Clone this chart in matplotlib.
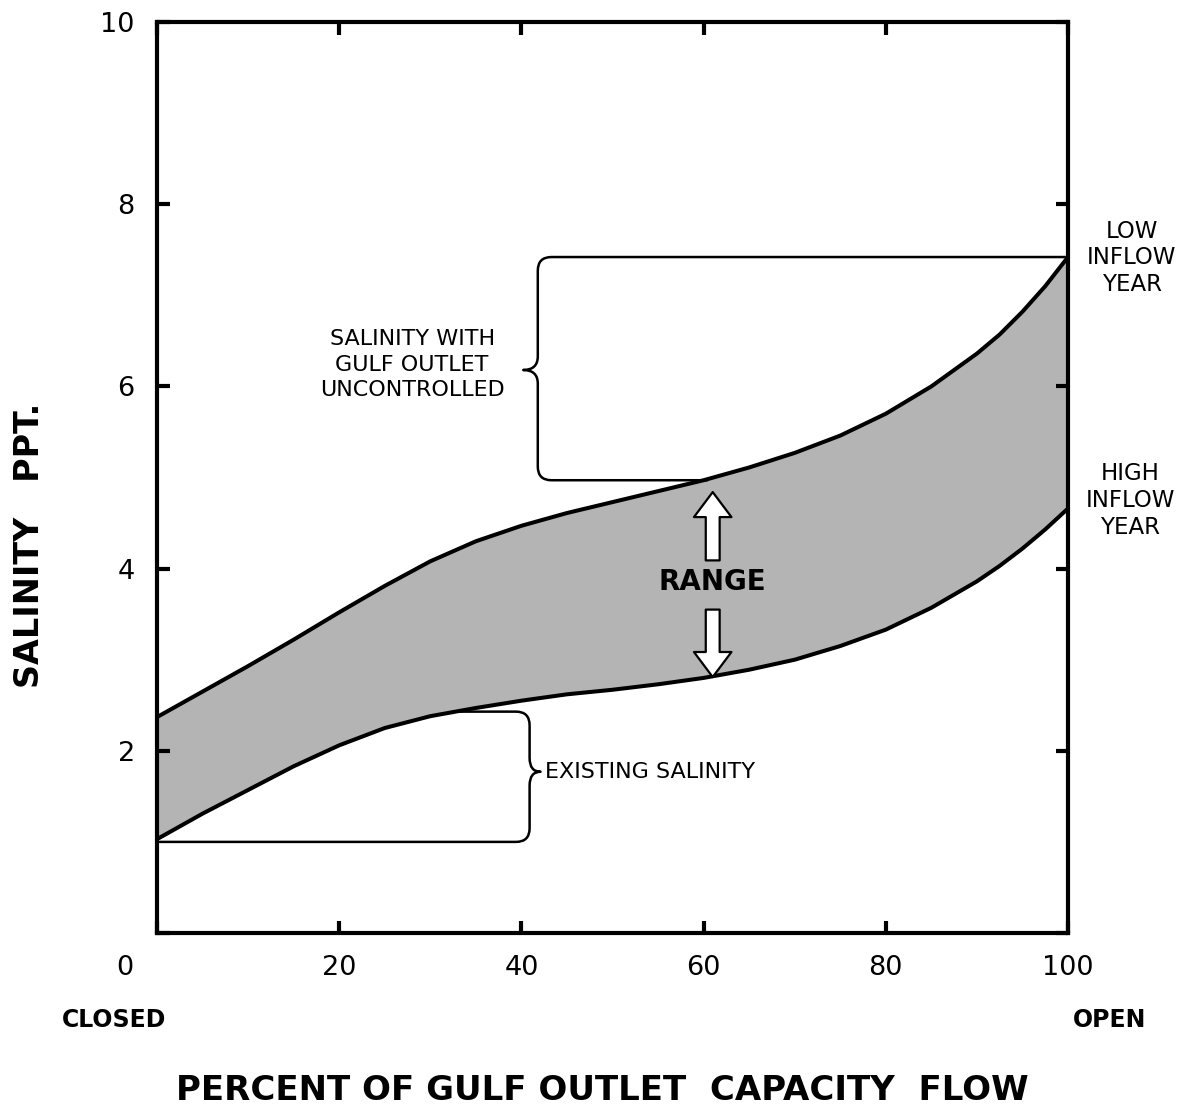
import numpy as np
import matplotlib
matplotlib.use("Agg")
import matplotlib.pyplot as plt
from matplotlib.path import Path
from matplotlib.patches import PathPatch
from matplotlib.transforms import ScaledTranslation

# Porcentaje del caudal de capacidad de la salida al golfo
pct_flow = [0, 5, 10, 15, 20, 25, 30, 35, 40, 45, 50,
            55, 60, 65, 70, 75, 80, 85, 90, 92.5, 95, 97.5, 100]
# Salinidad (ppt) para un año de bajo aporte (curva superior)
low_inflow = [2.37, 2.65, 2.93, 3.22, 3.52, 3.81, 4.08, 4.30, 4.47, 4.61, 4.73,
              4.85, 4.97, 5.11, 5.27, 5.46, 5.70, 6.00, 6.36, 6.57, 6.82, 7.10, 7.42]
# Salinidad (ppt) para un año de alto aporte (curva inferior)
high_inflow = [1.03, 1.31, 1.57, 1.83, 2.06, 2.25, 2.38, 2.47, 2.55, 2.62, 2.67,
               2.73, 2.80, 2.89, 3.00, 3.15, 3.33, 3.57, 3.86, 4.03, 4.22, 4.43, 4.66]

x_ticks = [0, 20, 40, 60, 80, 100]
x_labels = ["0", "20", "40", "60", "80", "100"]
y_ticks = [0, 2, 4, 6, 8, 10]
y_labels = ["", "2", "4", "6", "8", "10"]


# Dibuja una llave con esquinas redondeadas entre y_top e y_bot, con el pico en x_tip
def draw_brace(ax, xb, y_top, y_bot, y_mid, x_tip, x_top_end, x_bot_end, rx, ry, lw):
    d = 1 if x_top_end > xb else -1
    verts = [
        (x_top_end, y_top), (xb + d * rx, y_top),
        (xb, y_top), (xb, y_top - ry),
        (xb, y_mid + ry),
        (xb, y_mid), (x_tip, y_mid),
        (xb, y_mid), (xb, y_mid - ry),
        (xb, y_bot + ry),
        (xb, y_bot), (xb + d * rx, y_bot),
        (x_bot_end, y_bot),
    ]
    codes = [Path.MOVETO, Path.LINETO,
             Path.CURVE3, Path.CURVE3,
             Path.LINETO,
             Path.CURVE3, Path.CURVE3,
             Path.CURVE3, Path.CURVE3,
             Path.LINETO,
             Path.CURVE3, Path.CURVE3,
             Path.LINETO]
    ax.add_patch(PathPatch(Path(verts, codes), fc="none", ec="black", lw=lw,
                           capstyle="round", joinstyle="round"))


fig = plt.figure(figsize=(11.96, 11.10), dpi=100)
ax = fig.add_axes([157 / 1196, 177 / 1110, 911 / 1196, 911 / 1110])

# Banda de rango entre las dos curvas
ax.fill_between(pct_flow, high_inflow, low_inflow, facecolor="#b4b4b4",
                edgecolor="none", zorder=1)
ax.plot(pct_flow, low_inflow, color="black", lw=2.9, zorder=3,
        solid_joinstyle="round")
ax.plot(pct_flow, high_inflow, color="black", lw=2.9, zorder=3,
        solid_joinstyle="round")

# Llaves de anotación
draw_brace(ax, 41.8, 7.42, 4.97, 6.18, 40.2, 100, 60.4, 1.5, 0.15, 1.8)
draw_brace(ax, 40.9, 2.43, 1.00, 1.77, 42.1, 32.5, 0.3, 1.5, 0.15, 1.8)

ax.text(28.0, 6.24, "SALINITY WITH\nGULF OUTLET\nUNCONTROLLED", ha="center",
        va="center", fontsize=16, linespacing=1.37)
ax.text(42.6, 1.77, "EXISTING SALINITY", ha="left", va="center", fontsize=16)

# Flechas huecas de rango
arrow_style = "simple,head_length=18,head_width=27,tail_width=10"
ax.annotate("", xy=(61.0, 4.84), xytext=(61.0, 4.09),
            arrowprops=dict(arrowstyle=arrow_style, mutation_scale=1, fc="white",
                            ec="black", lw=1.6, shrinkA=0, shrinkB=0), zorder=4)
ax.annotate("", xy=(61.0, 2.81), xytext=(61.0, 3.55),
            arrowprops=dict(arrowstyle=arrow_style, mutation_scale=1, fc="white",
                            ec="black", lw=1.6, shrinkA=0, shrinkB=0), zorder=4)
ax.text(61.0, 3.85, "RANGE", ha="center", va="center", fontsize=20,
        fontweight="bold", zorder=5)

# Etiquetas a la derecha del área de dibujo
ax.text(107.0, 7.41, "LOW\nINFLOW\nYEAR", ha="center", va="center", fontsize=16.5,
        linespacing=1.21, clip_on=False)
ax.text(106.8, 4.75, "HIGH\nINFLOW\nYEAR", ha="center", va="center", fontsize=16.5,
        linespacing=1.21, clip_on=False)

# Ejes
ax.set_xlim(0, 100)
ax.set_ylim(0, 10)
ax.set_xticks(x_ticks)
ax.set_xticklabels(x_labels)
ax.set_yticks(y_ticks)
ax.set_yticklabels(y_labels)
ax.tick_params(direction="in", length=9, width=3, top=True, right=True,
               labelsize=19.5, pad=16)
for s in ax.spines.values():
    s.set_linewidth(3)
lbl0 = ax.get_xticklabels()[0]
lbl0.set_transform(lbl0.get_transform() + ScaledTranslation(-0.32, 0, fig.dpi_scale_trans))

fig.text(114 / 1196, 1 - 1020 / 1110, "CLOSED", ha="center", va="center",
         fontsize=17, fontweight="bold")
fig.text(1110 / 1196, 1 - 1020 / 1110, "OPEN", ha="center", va="center",
         fontsize=17, fontweight="bold")
fig.text(602 / 1196, 1 - 1090 / 1110, "PERCENT OF GULF OUTLET  CAPACITY  FLOW",
         ha="center", va="center", fontsize=24.5, fontweight="bold")
fig.text(30 / 1196, 1 - 545 / 1110, "SALINITY   PPT.", ha="center", va="center",
         rotation=90, fontsize=24, fontweight="bold")

fig.savefig("out.png", dpi=100)
